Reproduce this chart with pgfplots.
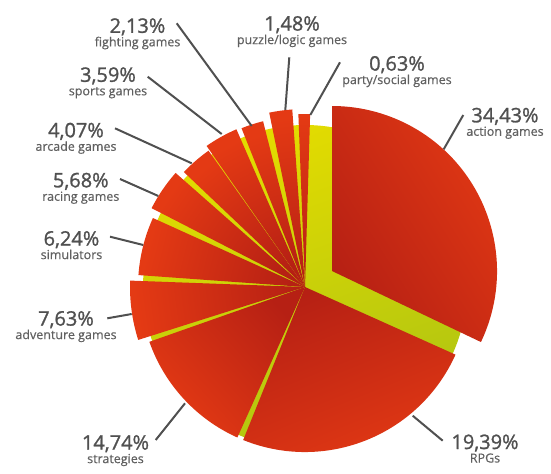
\documentclass[border=0pt]{standalone}
\usepackage{pgfplots}
\pgfplotsset{compat=1.18}
\usepackage{fontspec}
\setmainfont{Open Sans}
\newfontfamily\valfont{Open Sans}[FakeBold=1.2]
\newfontfamily\catfont{Open Sans}[FakeBold=0.5]

\definecolor{redlight}{RGB}{228,58,20}
\definecolor{reddark}{RGB}{182,32,20}
\definecolor{yeltop}{RGB}{228,220,0}
\definecolor{yelbot}{RGB}{174,196,18}
\definecolor{txt}{RGB}{80,80,80}
\definecolor{txtlight}{RGB}{96,96,96}

% slice: apex x, apex y (pixel coords), start angle, end angle, radius
\newcommand\slice[5]{%
  \pgfmathsetmacro\shang{(#3+#4)/2-90}%
  \edef\tmp{\noexpand\shade[top color=redlight, bottom color=reddark, shading angle=\shang]
    (axis cs:#1,#2) -- ([shift={(#3:#5pt)}]axis cs:#1,#2)
    arc[start angle=#3, end angle=#4, radius=#5pt] -- cycle;}%
  \tmp}

% label: x, y (centre of the value), value, category
\newcommand\lbl[4]{%
  \node[anchor=base, yshift=-7.3pt, text=txt, font=\valfont\fontsize{20}{20}\selectfont] at (axis cs:#1,#2) {#3};
  \node[anchor=base, yshift=-20.8pt, text=txtlight, font=\catfont\fontsize{12.5}{12.5}\selectfont] at (axis cs:#1,#2) {#4};}

\begin{document}
\begin{tikzpicture}
\begin{axis}[
  x=1pt, y=1pt,
  xmin=0, xmax=551, ymin=0, ymax=464,
  y dir=reverse,
  hide axis, clip=false, scale only axis]

\path (axis cs:0,0) rectangle (axis cs:551,464);

% background disc
\shade[top color=yeltop, bottom color=yelbot, shading angle=20]
  (axis cs:305,287) circle[radius=162pt];

\slice{332}{271}{-25.5}{90}{165}     % action games
\slice{305}{287}{248}{335.8}{165}    % RPGs
\slice{305}{287}{199.4}{245.8}{165}  % strategies
\slice{305}{287}{177.9}{197.6}{175}  % adventure games
\slice{305}{287}{155.6}{175.9}{167}  % simulators
\slice{305}{287}{138.6}{152.8}{172.5}% racing games
\slice{305}{287}{125.3}{136.5}{167}  % arcade games
\slice{305}{287}{113.5}{124.9}{172}  % sports games
\slice{305}{287}{104.2}{111.8}{171}  % fighting games
\slice{305}{287}{94.1}{101.6}{178}   % puzzle/logic games
\slice{305}{287}{88.3}{92.2}{173}    % party/social games

\begin{scope}[txt, line width=2pt]
\draw (axis cs:463.3,115) -- (axis cs:443.7,149.3);
\draw (axis cs:340,62.3) -- (axis cs:310.3,115);
\draw (axis cs:289.3,57.3) -- (axis cs:285.3,110);
\draw (axis cs:176.7,23.3) -- (axis cs:251.7,126);
\draw (axis cs:147.7,76.7) -- (axis cs:221.7,134);
\draw (axis cs:115,128.3) -- (axis cs:191.7,163.3);
\draw (axis cs:120,179) -- (axis cs:158.3,196);
\draw (axis cs:110,236.7) -- (axis cs:143.3,245);
\draw (axis cs:107.3,318.3) -- (axis cs:131.7,314);
\draw (axis cs:155.7,440) -- (axis cs:185,403.3);
\draw (axis cs:412.7,415.7) -- (axis cs:442.7,440.7);
\end{scope}

\lbl{505}{115}{34,43\%}{action games}
\lbl{397}{63.3}{0,63\%}{party/social games}
\lbl{292}{23.3}{1,48\%}{puzzle/logic games}
\lbl{137.5}{25.5}{2,13\%}{fighting games}
\lbl{108}{74.5}{3,59\%}{sports games}
\lbl{76}{130}{4,07\%}{arcade games}
\lbl{80.8}{180}{5,68\%}{racing games}
\lbl{71.5}{238.3}{6,24\%}{simulators}
\lbl{66}{318.3}{7,63\%}{adventure games}
\lbl{115.5}{442.3}{14,74\%}{strategies}
\lbl{485}{441.7}{19,39\%}{RPGs}
\end{axis}
\end{tikzpicture}
\end{document}
